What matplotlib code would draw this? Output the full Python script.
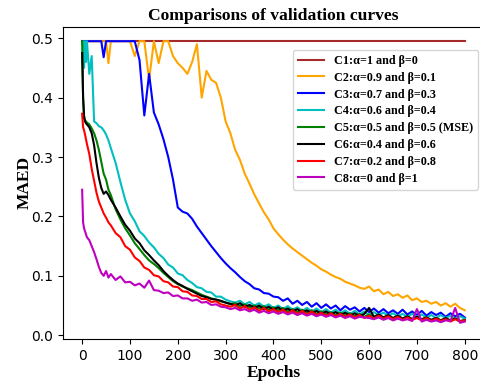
import matplotlib
matplotlib.use("Agg")
import matplotlib.pyplot as plt

# epoch grid the values were read at
epochs = [0, 2, 4, 6, 8, 10, 15, 20, 25, 30, 35, 40, 45, 50, 55, 60] + list(range(70, 801, 10))

labels = ["C1:\u03b1=1 and \u03b2=0",
          "C2:\u03b1=0.9 and \u03b2=0.1",
          "C3:\u03b1=0.7 and \u03b2=0.3",
          "C4:\u03b1=0.6 and \u03b2=0.4",
          "C5:\u03b1=0.5 and \u03b2=0.5 (MSE)",
          "C6:\u03b1=0.4 and \u03b2=0.6",
          "C7:\u03b1=0.2 and \u03b2=0.8",
          "C8:\u03b1=0 and \u03b2=1"]
colors = ["brown", "orange", "blue", "c", "g", "k", "r", "m"]

c1 = [0.495] * len(epochs)
c2 = [0.495, 0.495, 0.495, 0.495, 0.495, 0.495, 0.495, 0.495, 0.495, 0.495, 0.495, 0.495, 0.495, 0.495, 0.458, 0.495,
      0.495, 0.495, 0.495, 0.495, 0.470, 0.495, 0.495, 0.430, 0.495, 0.458, 0.495, 0.495, 0.470, 0.458,
      0.450, 0.440, 0.460, 0.490, 0.400, 0.445, 0.430, 0.425, 0.400,
      0.360, 0.340, 0.312, 0.295, 0.272, 0.255, 0.237, 0.222, 0.207, 0.195,
      0.180, 0.170, 0.161, 0.153, 0.146, 0.140, 0.134, 0.128, 0.122, 0.117,
      0.111, 0.107, 0.102, 0.098, 0.095, 0.090, 0.087, 0.084, 0.080, 0.078,
      0.082, 0.074, 0.077, 0.069, 0.073, 0.066, 0.069, 0.063, 0.067, 0.059,
      0.062, 0.056, 0.058, 0.053, 0.056, 0.050, 0.054, 0.048, 0.053, 0.046,
      0.042]
c3 = [0.495, 0.495, 0.495, 0.495, 0.495, 0.495, 0.495, 0.495, 0.495, 0.495, 0.495, 0.495, 0.468, 0.495, 0.495, 0.495,
      0.495, 0.495, 0.495, 0.495, 0.495, 0.463, 0.370, 0.440, 0.375, 0.355, 0.330, 0.300, 0.262, 0.215,
      0.208, 0.205, 0.196, 0.183, 0.172, 0.161, 0.150, 0.140, 0.130,
      0.121, 0.113, 0.106, 0.098, 0.091, 0.086, 0.079, 0.077, 0.071, 0.070,
      0.065, 0.064, 0.058, 0.062, 0.053, 0.058, 0.051, 0.056, 0.048, 0.054,
      0.046, 0.052, 0.045, 0.050, 0.042, 0.049, 0.043, 0.047, 0.040, 0.046,
      0.039, 0.045, 0.038, 0.044, 0.037, 0.042, 0.036, 0.043, 0.035, 0.040,
      0.034, 0.041, 0.033, 0.039, 0.034, 0.038, 0.031, 0.037, 0.032, 0.036,
      0.030]
c4 = [0.490, 0.495, 0.450, 0.495, 0.460, 0.495, 0.440, 0.470, 0.360, 0.357, 0.352, 0.350, 0.345, 0.338, 0.328, 0.315,
      0.290, 0.258, 0.228, 0.205, 0.192, 0.175, 0.167, 0.156, 0.148, 0.137, 0.130, 0.119, 0.114, 0.104,
      0.101, 0.093, 0.088, 0.081, 0.079, 0.073, 0.072, 0.065, 0.065,
      0.060, 0.057, 0.055, 0.058, 0.052, 0.056, 0.050, 0.054, 0.048, 0.052,
      0.046, 0.050, 0.044, 0.049, 0.043, 0.047, 0.041, 0.046, 0.040, 0.045,
      0.039, 0.044, 0.038, 0.043, 0.037, 0.042, 0.036, 0.041, 0.035, 0.040,
      0.034, 0.039, 0.034, 0.038, 0.033, 0.037, 0.032, 0.036, 0.031, 0.036,
      0.031, 0.035, 0.030, 0.034, 0.029, 0.034, 0.029, 0.033, 0.028, 0.032,
      0.028]
c5 = [0.495, 0.400, 0.365, 0.362, 0.360, 0.358, 0.355, 0.348, 0.340, 0.328, 0.312, 0.292, 0.272, 0.262, 0.245, 0.236,
      0.212, 0.195, 0.180, 0.168, 0.155, 0.145, 0.135, 0.126, 0.120, 0.113, 0.105, 0.098, 0.091, 0.086,
      0.082, 0.079, 0.076, 0.072, 0.068, 0.065, 0.062, 0.060, 0.057,
      0.055, 0.052, 0.054, 0.049, 0.052, 0.047, 0.050, 0.045, 0.049, 0.043,
      0.047, 0.042, 0.046, 0.040, 0.044, 0.039, 0.043, 0.038, 0.042, 0.036,
      0.040, 0.035, 0.039, 0.034, 0.038, 0.033, 0.037, 0.032, 0.036, 0.031,
      0.035, 0.030, 0.034, 0.029, 0.033, 0.028, 0.032, 0.028, 0.031, 0.027,
      0.030, 0.026, 0.030, 0.025, 0.029, 0.025, 0.028, 0.024, 0.028, 0.023,
      0.026]
c6 = [0.475, 0.400, 0.370, 0.360, 0.357, 0.355, 0.350, 0.340, 0.320, 0.290, 0.265, 0.248, 0.238, 0.242, 0.236, 0.228,
      0.215, 0.200, 0.186, 0.176, 0.163, 0.155, 0.143, 0.135, 0.126, 0.118, 0.108, 0.100, 0.093, 0.087,
      0.083, 0.078, 0.074, 0.070, 0.066, 0.064, 0.061, 0.060, 0.058,
      0.055, 0.053, 0.050, 0.054, 0.048, 0.051, 0.046, 0.050, 0.044, 0.048,
      0.043, 0.047, 0.041, 0.045, 0.040, 0.044, 0.038, 0.042, 0.037, 0.041,
      0.036, 0.040, 0.035, 0.039, 0.034, 0.038, 0.033, 0.037, 0.032, 0.036,
      0.046, 0.031, 0.035, 0.030, 0.034, 0.029, 0.033, 0.028, 0.032, 0.027,
      0.031, 0.027, 0.030, 0.026, 0.029, 0.025, 0.029, 0.025, 0.028, 0.024,
      0.025]
c7 = [0.373, 0.350, 0.345, 0.338, 0.330, 0.322, 0.305, 0.280, 0.260, 0.240, 0.225, 0.215, 0.205, 0.198, 0.190, 0.185,
      0.172, 0.165, 0.150, 0.144, 0.131, 0.125, 0.114, 0.110, 0.101, 0.099, 0.091, 0.089, 0.082, 0.081,
      0.074, 0.073, 0.067, 0.066, 0.061, 0.061, 0.056, 0.057, 0.052,
      0.050, 0.048, 0.051, 0.045, 0.049, 0.043, 0.047, 0.041, 0.046, 0.040,
      0.044, 0.039, 0.043, 0.037, 0.042, 0.036, 0.041, 0.035, 0.040, 0.034,
      0.038, 0.033, 0.037, 0.032, 0.036, 0.031, 0.035, 0.030, 0.034, 0.029,
      0.033, 0.028, 0.033, 0.028, 0.032, 0.027, 0.031, 0.026, 0.030, 0.026,
      0.029, 0.025, 0.029, 0.024, 0.028, 0.024, 0.027, 0.023, 0.027, 0.023,
      0.025]
c8 = [0.245, 0.190, 0.180, 0.175, 0.170, 0.165, 0.160, 0.150, 0.140, 0.128, 0.115, 0.105, 0.100, 0.108, 0.097, 0.103,
      0.093, 0.099, 0.089, 0.090, 0.084, 0.087, 0.080, 0.092, 0.076, 0.075, 0.071, 0.072, 0.066, 0.067,
      0.062, 0.062, 0.058, 0.060, 0.055, 0.056, 0.051, 0.052, 0.048,
      0.047, 0.044, 0.046, 0.042, 0.044, 0.040, 0.043, 0.038, 0.041, 0.037,
      0.040, 0.036, 0.039, 0.035, 0.038, 0.034, 0.037, 0.033, 0.036, 0.032,
      0.035, 0.031, 0.034, 0.030, 0.033, 0.029, 0.032, 0.028, 0.031, 0.030,
      0.029, 0.027, 0.030, 0.026, 0.029, 0.025, 0.028, 0.025, 0.027, 0.024,
      0.044, 0.023, 0.026, 0.023, 0.025, 0.022, 0.025, 0.024, 0.046, 0.021,
      0.023]
curves = [c1, c2, c3, c4, c5, c6, c7, c8]

serif = "Liberation Serif"

fig = plt.figure(figsize=(4.81, 3.85), dpi=100)
ax = fig.add_axes([0.131, 0.12, 0.875, 0.81])

for vals, col, lab in zip(curves, colors, labels):
    ax.plot(epochs, vals, color=col, lw=1.5, label=lab)

ax.set_xlim(-40, 840)
ax.set_ylim(-0.006, 0.519)
ax.set_xticks(range(0, 801, 100))
ax.set_yticks([0.0, 0.1, 0.2, 0.3, 0.4, 0.5])
ax.tick_params(labelsize=10)

ax.set_title("Comparisons of validation curves", fontsize=12.6, fontweight="bold", family=serif, pad=5)
ax.set_xlabel("Epochs", fontsize=12.5, fontweight="bold", family=serif, labelpad=2)
ax.set_ylabel("MAED", fontsize=12.5, fontweight="bold", family=serif)
ax.yaxis.set_label_coords(-0.072, 0.5)

ax.legend(loc="upper right", bbox_to_anchor=(0.986, 0.926), borderaxespad=0,
          labelspacing=0.4, handlelength=2.2,
          prop={"family": serif, "weight": "bold", "size": 8.7})

fig.savefig("out.png", dpi=100)
